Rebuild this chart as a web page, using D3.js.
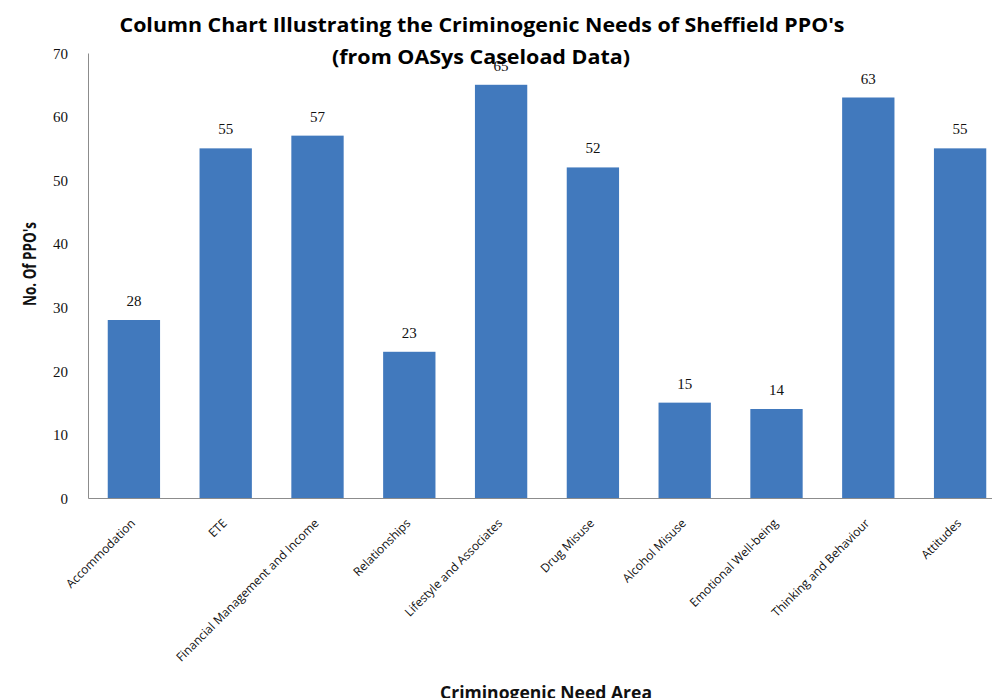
<!DOCTYPE html>
<html><head><meta charset="utf-8">
<script src="https://cdn.jsdelivr.net/npm/d3@7"></script>
<style>body{margin:0;background:#fff}svg{display:block}</style>
</head><body>
<script>
const categories = ["Accommodation","ETE","Financial Management and Income","Relationships","Lifestyle and Associates","Drug Misuse","Alcohol Misuse","Emotional Well-being","Thinking and Behaviour","Attitudes"];
const values = [28,55,57,23,65,52,15,14,63,55];
const yTicks = [0,10,20,30,40,50,60,70];
const titleLines = ["Column Chart  Illustrating the Criminogenic Needs of Sheffield PPO's","(from OASys Caseload Data)"];
const yTitle = "No. Of PPO's";
const xTitle = "Criminogenic Need Area";

const W = 992, H = 698;
const svg = d3.select("body").append("svg").attr("width", W).attr("height", H);
const x = d3.scaleBand().domain(categories).range([88, 1006]).paddingInner(0.43).paddingOuter(0.215);
const y = d3.scaleLinear().domain([0, 70]).range([498, 53]);

// y axis
const ya = svg.append("g").attr("transform","translate(88,0)")
  .call(d3.axisLeft(y).tickValues(yTicks).tickSize(0).tickPadding(20));
ya.select(".domain").attr("stroke","#8c8c8c");
ya.selectAll("text").attr("font-family","'Liberation Serif', serif").attr("font-size",15).attr("fill","#111").attr("dy","0.35em");

// bars
svg.selectAll("rect.bar").data(values).join("rect").attr("class","bar")
  .attr("x",(d,i)=>x(categories[i])).attr("width",x.bandwidth())
  .attr("y",d=>y(d)).attr("height",d=>y(0)-y(d)).attr("fill","#4179bd");

// x axis
const xa = svg.append("g").attr("transform","translate(0,498)")
  .call(d3.axisBottom(x).tickSize(0).tickPadding(0));
xa.select(".domain").attr("stroke","#8c8c8c");
xa.selectAll("text").attr("font-family","'Open Sans', sans-serif").attr("font-size",12).attr("fill","#111")
  .attr("text-anchor","end").attr("dy",0)
  .attr("transform","translate(2,26) rotate(-45)");

// value labels
svg.selectAll("text.val").data(values).join("text").attr("class","val")
  .attr("x",(d,i)=>x(categories[i])+x.bandwidth()/2).attr("y",d=>y(d)-14)
  .attr("text-anchor","middle").attr("font-family","'Liberation Serif', serif").attr("font-size",15).attr("fill","#111")
  .text(d=>d);

// title
svg.append("text").attr("x",482).attr("y",32).attr("text-anchor","middle")
  .attr("font-family","'Open Sans',sans-serif").attr("font-weight","bold").attr("font-size",20)
  .attr("textLength",725).attr("lengthAdjust","spacingAndGlyphs").text(titleLines[0]);
svg.append("text").attr("x",481).attr("y",64).attr("text-anchor","middle")
  .attr("font-family","'Open Sans',sans-serif").attr("font-weight","bold").attr("font-size",20)
  .attr("textLength",298).attr("lengthAdjust","spacingAndGlyphs").text(titleLines[1]);

// axis titles
svg.append("text").attr("transform","translate(36,264) rotate(-90)").attr("text-anchor","middle")
  .attr("font-family","'Open Sans',sans-serif").attr("font-weight","bold").attr("font-size",17).attr("fill","#111")
  .attr("textLength",84).attr("lengthAdjust","spacingAndGlyphs").text(yTitle);
svg.append("text").attr("x",546).attr("y",699).attr("text-anchor","middle")
  .attr("font-family","'Open Sans',sans-serif").attr("font-weight","bold").attr("font-size",17).attr("fill","#111")
  .attr("textLength",212).attr("lengthAdjust","spacingAndGlyphs").text(xTitle);
</script>
</body></html>
